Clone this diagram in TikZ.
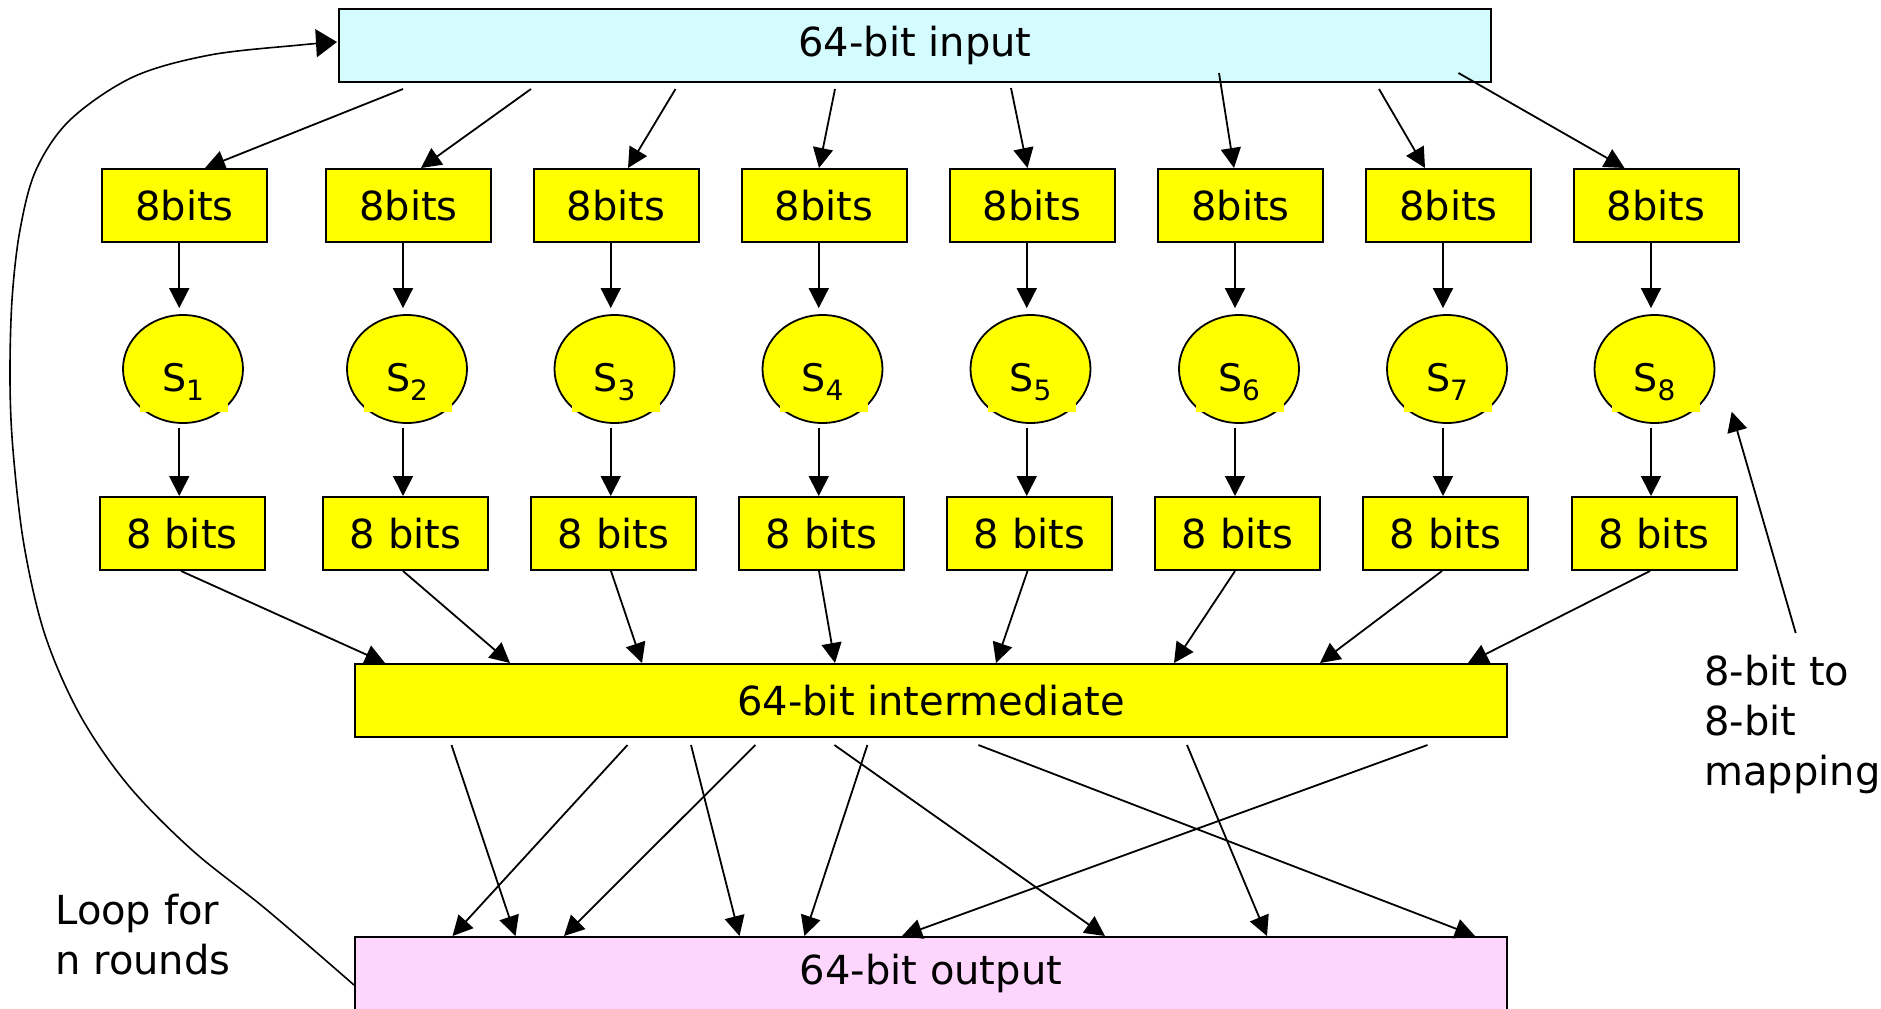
\documentclass[tikz,border=0pt]{standalone}
\usepackage{fontspec}
\setmainfont{DejaVu Sans}
\usetikzlibrary{arrows.meta,shapes.geometric}
\definecolor{incyan}{RGB}{212,252,255}
\definecolor{outpink}{RGB}{253,213,253}
\definecolor{byellow}{RGB}{255,255,0}
\begin{document}
\begin{tikzpicture}[x=0.5pt,y=-0.5pt,
  every node/.style={font=\fontsize{20}{25}\selectfont},
  bitbox/.style={draw=black,line width=1pt,fill=byellow,minimum width=82.5pt,minimum height=36.5pt,inner sep=0pt},
  widebox/.style={draw=black,line width=1pt,minimum width=576pt,minimum height=36.5pt,inner sep=0pt},
  sbox/.style={ellipse,draw=black,line width=0.9pt,fill=byellow,minimum width=60pt,minimum height=54pt,inner sep=0pt,text height=22pt,text depth=0pt,font=\fontsize{19}{22}\selectfont},
  arr/.style={line width=0.9pt,-{Triangle[length=10pt,width=10pt]}},
  looparr/.style={line width=0.8pt,-{Triangle[length=10.5pt,width=14pt]}},
  note/.style={align=left,inner sep=0pt,anchor=base west}]
\useasboundingbox (0,0) rectangle (1881,1008);
\fill[white] (0,0) rectangle (1881,1008);

\node[widebox,fill=incyan] (in) at (915,45.5) {64-bit input};
\node[widebox,fill=byellow] (mid) at (931,700.5) {64-bit intermediate};
\node[widebox,fill=outpink] (out) at (931,973.5) {64-bit output};

\foreach \i/\tx/\bx/\ax in {1/184.5/182/179.25, 2/408.5/405.5/403, 3/616/613.5/610.75, 4/824/821.5/818.75, 5/1032/1029.5/1026.75, 6/1240.5/1237.5/1235, 7/1448.5/1445.5/1443, 8/1656/1654/1651}{
  \node[bitbox] (t\i) at (\tx,205.5) {8bits};
  \node[sbox] (s\i) at (\tx-1.5,369) {S\raisebox{-4.5pt}{\fontsize{14}{14}\selectfont\i}};
  \fill[byellow] ([shift={(-43,34)}]s\i.center) rectangle ([shift={(45,43)}]s\i.center);
  \node[bitbox] (b\i) at (\bx,533.5) {8 bits};
  \draw[arr,shorten >=3pt] (\ax,0 |- t\i.south) -- (\ax,0 |- s\i.north);
  \draw[arr,shorten <=2pt] (\ax,0 |- s\i.south) -- (\ax,0 |- b\i.north);
}

\foreach \sx/\sy/\ex/\i in {403/89/205/1, 531/89/421/2, 675.5/89/628/3, 835/89/819/4, 1011/88/1027.5/5, 1219/73/1234/6, 1379/89/1425/7, 1458.5/73/1624.5/8}
  \draw[arr] (\sx,\sy) -- (\ex,0 |- t\i.north);

\foreach \sx/\ex/\i in {181/385/1, 403/510/2, 611/642/3, 819/835/4, 1027.5/996/5, 1235/1174/6, 1442/1320/7, 1650/1468/8}
  \draw[arr] (\sx,0 |- b\i.south) -- (\ex,0 |- mid.north);

\foreach \sx/\ex in {451.5/515.5, 627.5/452.5, 691/739.5, 755.4/564, 834.4/1105, 867.4/804.4, 978.4/1475, 1187/1267, 1427.5/902}
  \draw[arr] (\sx,745) -- (\ex,0 |- out.north);

\coordinate (mapfrom) at (1795.7,633);
\draw[arr] (mapfrom) -- (1731.7,411.7);
\node[note] (maptext) at (1704,785) {8-bit to\\8-bit\\mapping};
\node[note] (looptext) at (55,974) {Loop for\\n rounds};

\draw[looparr] plot[smooth,tension=0.55] coordinates {(354,985) (267,910) (192,850) (128,785) (80,715) (45,635) (24,545) (13,450) (10,380) (12,300) (20,230) (36,170) (70,120) (133,77) (210,55) (300,45) (337,42)};
\end{tikzpicture}
\end{document}
